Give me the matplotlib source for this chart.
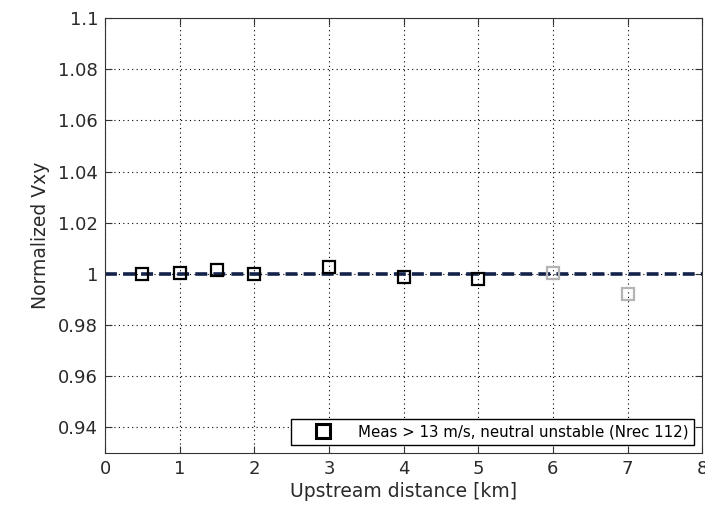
import matplotlib.pyplot as plt

# Data
dist_black = [0.5, 1, 1.5, 2, 3, 4, 5]
vxy_black = [1.0, 1.0005, 1.0015, 1.0, 1.0027, 0.999, 0.9982]
dist_gray = [6, 7]
vxy_gray = [1.0005, 0.9922]
xticks = [0, 1, 2, 3, 4, 5, 6, 7, 8]
yticks = [0.94, 0.96, 0.98, 1.0, 1.02, 1.04, 1.06, 1.08, 1.1]
ytick_labels = ['0.94', '0.96', '0.98', '1', '1.02', '1.04', '1.06', '1.08', '1.1']

plt.rcParams['font.family'] = ['DejaVu Sans']

fig = plt.figure(figsize=(7.05, 5.05), dpi=100)
ax = fig.add_axes([0.149, 0.103, 0.847, 0.861])

ax.plot([0, 8], [1, 1], linestyle=(0, (3.3, 1.7)), color='#13224a', linewidth=2.6, zorder=2)
ax.plot(dist_black, vxy_black, linestyle='none', marker='s', markersize=9,
        markerfacecolor='none', markeredgecolor='black', markeredgewidth=1.6,
        label='Meas > 13 m/s, neutral unstable (Nrec 112)', zorder=3)
ax.plot(dist_gray, vxy_gray, linestyle='none', marker='s', markersize=9,
        markerfacecolor='none', markeredgecolor='#b4b4b4', markeredgewidth=1.6, zorder=3)

ax.set_xlim(0, 8)
ax.set_ylim(0.93, 1.1)
ax.set_xticks(xticks)
ax.set_yticks(yticks)
ax.set_yticklabels(ytick_labels)
ax.tick_params(direction='in', top=True, right=True, labelsize=13, colors='#333333',
               labelcolor='#2a2a2a', length=5, pad=5)
for s in ax.spines.values():
    s.set_color('#333333')
ax.grid(True, linestyle=(0, (1, 3)), color='black', linewidth=0.8)

ax.set_xlabel('Upstream distance [km]', fontsize=13.5, color='#2a2a2a', labelpad=3)
ax.set_ylabel('Normalized Vxy', fontsize=13.5, color='#2a2a2a', labelpad=6)

leg = ax.legend(loc='lower right', fontsize=10.8, frameon=True, fancybox=False,
                edgecolor='black', borderpad=0.35, handlelength=3.5, handletextpad=0.6,
                borderaxespad=0.55, markerscale=1.05, framealpha=1)
leg.get_frame().set_linewidth(1.0)
for h in leg.legend_handles:
    h.set_markeredgewidth(2.2)

fig.savefig('out.png', dpi=100)
